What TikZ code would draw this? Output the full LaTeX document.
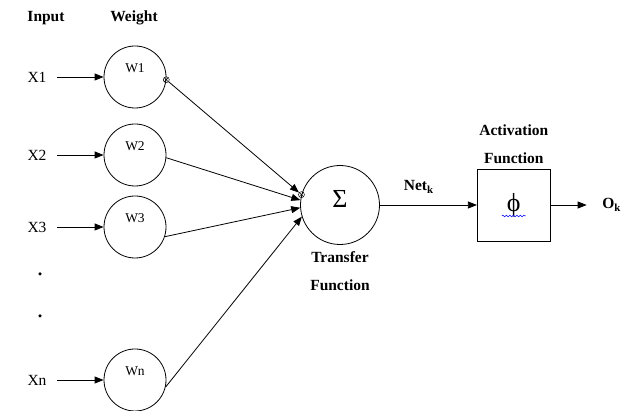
\documentclass[tikz,border=0pt]{standalone}
\usepackage{fontspec}
\setmainfont{Liberation Serif}
\usetikzlibrary{arrows.meta,positioning,decorations.pathmorphing}

\begin{document}
\begin{tikzpicture}[x=1pt, y=-1pt, line width=0.8pt,
    >={Triangle[length=9pt,width=7pt]},
    head/.style={font=\rmfamily\bfseries\fontsize{15.5}{28}\selectfont},
    inp/.style={font=\rmfamily\fontsize{15.5}{18}\selectfont},
    weight/.style={circle, draw, minimum size=62pt, inner sep=0pt},
    wname/.style={yshift=9pt, font=\rmfamily\fontsize{13.5}{14}\selectfont},
    sum/.style={circle, draw, minimum size=79pt, inner sep=0pt},
    sumsign/.style={yshift=6pt, font=\rmfamily\fontsize{26}{26}\selectfont},
    actbox/.style={rectangle, draw, minimum width=73pt, minimum height=72pt, inner sep=0pt,
      font=\rmfamily\fontsize{26}{26}\selectfont},
    xmark/.style={circle, draw, inner sep=0pt, minimum size=6pt, line width=0.5pt,
      path picture={\draw (path picture bounding box.north west) -- (path picture bounding box.south east)
                          (path picture bounding box.south west) -- (path picture bounding box.north east);}},
    dot/.style={circle, fill, inner sep=0pt, minimum size=3.5pt},
    in arrow/.style={->, shorten <=7pt}]
  \useasboundingbox (0,0) rectangle (635,411);

  \node[head] (input)  at (46,18)  {Input};
  \node[head] (weight) at (134,18) {Weight};

  \node[weight, label={[wname]center:W1}] (w1) at (135,77)  {};
  \node[weight, label={[wname]center:W2}] (w2) at (135,155) {};
  \node[weight, label={[wname]center:W3}] (w3) at (135,227) {};
  \node[weight, label={[wname]center:Wn}] (wn) at (135,380) {};

  \node[inp] (x1) at (37,77)  {X1};
  \node[inp] (x2) at (37,155) {X2};
  \node[inp] (x3) at (37,227) {X3};
  \node[inp] (xn) at (37,380) {Xn};
  \node[dot] (d1) at (40,274) {};
  \node[dot] (d2) at (40,316) {};

  \node[sum, label={[sumsign]center:Σ},
        label={[head, align=center, label distance=3pt]below:Transfer\\Function}] (sum) at (340,205) {};
  \node[actbox, label={[head, align=center, label distance=1pt]above:Activation\\Function}]
        (act) [right=97pt of sum] {ϕ};
  \node[head] (out) [right=48pt of act] {O\textsubscript{k}};

  \node[xmark] (m1) at (w1.-5)   {};
  \node[xmark] (m2) at (sum.165) {};

  \path[in arrow]
        (x1) edge (w1)
        (x2) edge (w2)
        (x3) edge (w3)
        (xn) edge (wn);
  \path[->]
        (m1)     edge (m2)
        (w2.-5)  edge (sum.173)
        (w3.-18) edge (sum.184)
        (wn.-13) edge (sum.197)
        (sum)    edge node[head, pos=0.4, above=8pt] {Net\textsubscript{k}} (act)
        (act)    edge [shorten >=12pt] (out);

  \draw[blue, line width=0.5pt, decorate, decoration={snake, amplitude=0.8pt, segment length=3.5pt}]
        (act.center) ++(-12,11) -- ++(24,0);
\end{tikzpicture}
\end{document}
